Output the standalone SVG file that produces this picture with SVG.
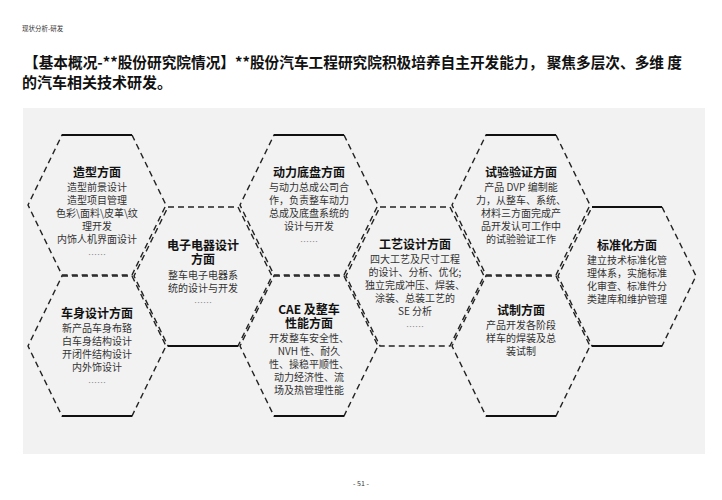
<svg xmlns="http://www.w3.org/2000/svg" width="722" height="500" viewBox="0 0 722 500">
<style>
text{font-family:"Noto Sans CJK SC","Liberation Sans",sans-serif;text-anchor:middle;fill:#333}
.t{font-weight:bold;font-size:12px;fill:#111}
.b{font-size:10px}
.d{font-size:9px;fill:#888}
.hx{fill:none;stroke:#222;stroke-width:1.4;stroke-dasharray:6 4}
.s{stroke:#111;stroke-width:2;fill:none}
</style>
<rect width="722" height="500" fill="#fff"/>
<text x="22" y="31" style="font-size:6.5px;text-anchor:start">现状分析-研发</text>
<text x="24" y="68" textLength="658" lengthAdjust="spacingAndGlyphs" style="font-size:15px;font-weight:bold;text-anchor:start;fill:#111">【基本概况-**股份研究院情况】**股份汽车工程研究院积极培养自主开发能力， 聚焦多层次、多维 度</text>
<text x="22" y="88" style="font-size:15px;font-weight:bold;text-anchor:start;fill:#111">的汽车相关技术研发。</text>
<rect x="23" y="108" width="682" height="346" fill="#f2f2f2"/>
<g id="connectors"></g>
<g id="n1"><polygon class="hx" points="62,135 132,135 166,205 132,275 62,275 28,205"/><line class="s" x1="62" y1="135" x2="132" y2="135"/>
<text class="t" x="97" y="177">造型方面</text><text class="b" x="97" y="191">造型前景设计</text><text class="b" x="97" y="204">造型项目管理</text><text class="b" x="97" y="217">色彩\面料\皮革\纹</text><text class="b" x="97" y="230">理开发</text><text class="b" x="97" y="243">内饰人机界面设计</text><text class="d" x="97" y="258">……</text></g>
<g id="n2"><polygon class="hx" points="62,276 132,276 166,346 132,416 62,416 28,346"/><line class="s" x1="62" y1="416" x2="132" y2="416"/>
<text class="t" x="97" y="318">车身设计方面</text><text class="b" x="97" y="332">新产品车身布臵</text><text class="b" x="97" y="345">白车身结构设计</text><text class="b" x="97" y="358">开闭件结构设计</text><text class="b" x="97" y="371">内外饰设计</text><text class="d" x="97" y="386">……</text></g>
<g id="n3"><polygon class="hx" points="168,207 238,207 272,276 238,346 168,346 134,276"/><line class="s" x1="168" y1="346" x2="238" y2="346"/>
<text class="t" x="203" y="250">电子电器设计</text><text class="t" x="203" y="264">方面</text><text class="b" x="203" y="279">整车电子电器系</text><text class="b" x="203" y="292">统的设计与开发</text><text class="d" x="203" y="306">……</text></g>
<g id="n4"><polygon class="hx" points="274,135 344,135 378,205 344,275 274,275 240,205"/><line class="s" x1="274" y1="135" x2="344" y2="135"/>
<text class="t" x="309" y="177">动力底盘方面</text><text class="b" x="309" y="191">与动力总成公司合</text><text class="b" x="309" y="204">作，负责整车动力</text><text class="b" x="309" y="217">总成及底盘系统的</text><text class="b" x="309" y="230">设计与开发</text><text class="d" x="309" y="245">……</text></g>
<g id="n5"><polygon class="hx" points="274,276 344,276 378,346 344,416 274,416 240,346"/><line class="s" x1="274" y1="416" x2="344" y2="416"/>
<text class="t" x="309" y="314">CAE 及整车</text><text class="t" x="309" y="328">性能方面</text><text class="b" x="309" y="342">开发整车安全性、</text><text class="b" x="309" y="355">NVH 性、耐久</text><text class="b" x="309" y="368">性、操稳平顺性、</text><text class="b" x="309" y="381">动力经济性、流</text><text class="b" x="309" y="394">场及热管理性能</text></g>
<g id="n6"><polygon class="hx" points="380,207 450,207 484,276 450,346 380,346 346,276"/>
<text class="t" x="415" y="249">工艺设计方面</text><text class="b" x="415" y="263">四大工艺及尺寸工程</text><text class="b" x="415" y="276">的设计、分析、优化;</text><text class="b" x="415" y="289">独立完成冲压、焊装、</text><text class="b" x="415" y="302">涂装、总装工艺的</text><text class="b" x="415" y="315">SE 分析</text><text class="d" x="415" y="330">……</text></g>
<g id="n7"><polygon class="hx" points="486,135 556,135 590,205 556,275 486,275 452,205"/><line class="s" x1="486" y1="135" x2="556" y2="135"/>
<text class="t" x="521" y="177">试验验证方面</text><text class="b" x="521" y="191">产品 DVP 编制能</text><text class="b" x="521" y="204">力，从整车、系统、</text><text class="b" x="521" y="217">材料三方面完成产</text><text class="b" x="521" y="230">品开发认可工作中</text><text class="b" x="521" y="243">的试验验证工作</text></g>
<g id="n8"><polygon class="hx" points="486,276 556,276 590,346 556,416 486,416 452,346"/><line class="s" x1="486" y1="416" x2="556" y2="416"/>
<text class="t" x="521" y="315">试制方面</text><text class="b" x="521" y="329">产品开发各阶段</text><text class="b" x="521" y="342">样车的焊装及总</text><text class="b" x="521" y="355">装试制</text></g>
<g id="n9"><polygon class="hx" points="592,207 662,207 696,276 662,346 592,346 558,276"/><line class="s" x1="592" y1="207" x2="662" y2="207"/><line class="s" x1="592" y1="346" x2="662" y2="346"/>
<text class="t" x="627" y="250">标准化方面</text><text class="b" x="627" y="264">建立技术标准化管</text><text class="b" x="627" y="277">理体系，实施标准</text><text class="b" x="627" y="290">化审查、标准件分</text><text class="b" x="627" y="303">类建库和维护管理</text></g>
<text x="361" y="486" style="font-size:7px">- 51 -</text>
</svg>
